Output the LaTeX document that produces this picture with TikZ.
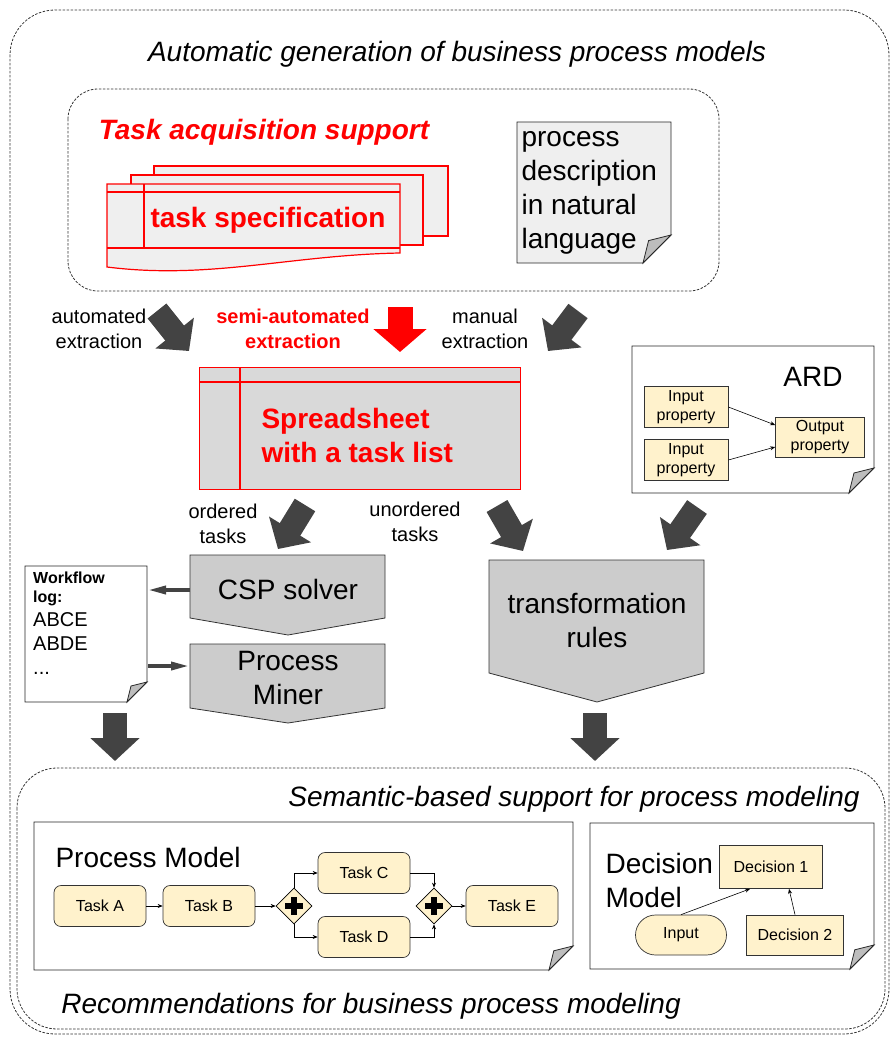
\documentclass[tikz,border=0pt]{standalone}
\usepackage{fontspec}
\setmainfont{Liberation Sans}
\usetikzlibrary{calc, positioning, arrows.meta, shapes.geometric}

\definecolor{arrowgrey}{HTML}{434343}
\definecolor{lightsheet}{HTML}{EFEFEF}
\definecolor{boxgrey}{HTML}{CCCCCC}
\definecolor{sheetgrey}{HTML}{D9D9D9}
\definecolor{foldgrey}{HTML}{BDBDBD}
\definecolor{taskfill}{HTML}{FFF2CC}

\newcommand{\bigfont}{\fontsize{28}{34}\selectfont}
\newcommand{\midfont}{\fontsize{20}{25}\selectfont}
\newcommand{\smallfont}{\fontsize{16}{19}\selectfont}

% note with a folded corner: x1, y1, x2, y2, fill, fold
\newcommand{\foldnote}[6]{%
  \draw[notebox, fill=#5] (#1,#2) -- (#3,#2) -- (#3,#4-#6) -- (#3-#6,#4) -- (#1,#4) -- cycle;
  \draw[notebox, fill=foldgrey] (#3,#4-#6) -- (#3-#6,#4) -- (#3-0.8*#6,#4-0.8*#6) -- cycle;}

\tikzset{
  frame/.style={draw=black!80, line width=0.8pt, dash pattern=on 2.5pt off 1.5pt, rounded corners=40pt},
  notebox/.style={draw=black!85, line width=0.8pt},
  redsheet/.style={draw=red, line width=1.2pt, fill=lightsheet},
  pentabox/.style={draw=black!80, line width=0.8pt, fill=boxgrey},
  blockarrow/.style={arrowgrey, line width=24pt, -{Triangle[length=23pt, width=48pt]}},
  redarrow/.style={red, line width=25pt, -{Triangle[length=23pt, width=52pt]}},
  smallarrow/.style={arrowgrey, line width=3.5pt, -{Triangle[length=18pt, width=8pt]}},
  flowarrow/.style={black, line width=0.6pt, -{Stealth[length=5pt, width=4pt]}},
  smallbox/.style={draw=black!80, line width=0.7pt, fill=taskfill, font=\smallfont, inner sep=1pt},
  task/.style={smallbox, rounded corners=7pt, minimum width=92, minimum height=41},
  gateway/.style={diamond, draw=black, line width=0.7pt, fill=taskfill, minimum width=36, minimum height=36, inner sep=0pt},
  plusmark/.style={black, line width=6pt}
}

\begin{document}
\begin{tikzpicture}[x=1pt, y=-1pt]
\useasboundingbox (0,0) rectangle (891,1038);

% outer frame
\draw[frame, rounded corners=45pt] (10,10) rectangle (889,1034);
\node[font=\bigfont\itshape] (title) at (457,54) {Automatic generation of business process models};

% task acquisition
\draw[frame, rounded corners=30pt] (68,89) rectangle (719,291);
\node[font=\bigfont\bfseries\itshape, text=red] (acq) at (264,132) {Task acquisition support};
\draw[redsheet] (154,166) rectangle (448,236);
\draw[redsheet] (131,175) rectangle (423,245);
\draw[redsheet] (107,184) -- (400,184) -- (400,253) .. controls (290,255) and (210,280) .. (107,267) -- cycle;
\draw[red, line width=1.2pt] (107,192) -- (400,192) (144,184) -- (144,248) (107,248) -- (400,248);
\node[font=\bigfont\bfseries, text=red] (spec) at (268,220) {task specification};

\foldnote{517}{122}{671}{263}{lightsheet}{28}
\node[font=\bigfont, align=left, anchor=west] (desc) at (518,193) {process\\description\\in natural\\language};

% extraction
\node[font=\midfont, align=center] (autoext) at (99,329) {automated\\extraction};
\node[font=\midfont\bfseries, text=red, align=center] (semiext) at (293,329) {semi-automated\\extraction};
\node[font=\midfont, align=center] (manext) at (485,329) {manual\\extraction};

\coordinate (autotail) at (157,311);
\coordinate (autotip) at (189,351);
\coordinate (semitail) at (400,307);
\coordinate (semitip) at (400,352);
\coordinate (mantail) at (578,311);
\coordinate (mantip) at (548,351);
\draw[blockarrow] (autotail) -- (autotip);
\draw[redarrow] (semitail) -- (semitip);
\draw[blockarrow] (mantail) -- (mantip);

% spreadsheet
\node[draw=red, line width=1.2pt, fill=sheetgrey, minimum width=321, minimum height=122, anchor=north west] (sheet) at (199,367) {};
\draw[red, line width=1.2pt] (199,382) -- (520,382) (240,367) -- (240,489);
\node[font=\bigfont\bfseries, text=red, align=left, anchor=west] (sheettext) at (258,435) {Spreadsheet\\with a task list};

% ARD
\foldnote{632}{346}{874}{493}{white}{25}
\node[font=\bigfont] (ard) at (813,377) {ARD};
\node[smallbox, minimum width=84, minimum height=41, align=center] (inprop1) at (686,407) {Input\\property};
\node[smallbox, minimum width=84, minimum height=41, align=center] (inprop2) at (686,460) {Input\\property};
\node[smallbox, minimum width=89, minimum height=40, align=center] (outprop) at (820,437) {Output\\property};
\draw[flowarrow] (inprop1.east) -- ($(outprop.west)+(0,-12)$);
\draw[flowarrow] (inprop2.east) -- ($(outprop.west)+(0,10)$);

% ordering
\node[font=\midfont, align=center] (ordered) at (223,524) {ordered\\tasks};
\node[font=\midfont, align=center] (unordered) at (415,522) {unordered\\tasks};
\coordinate (ordtail) at (305,505);
\coordinate (ordtip) at (278,549);
\coordinate (unordtail) at (497,506);
\coordinate (unordtip) at (523,551);
\coordinate (ardtail) at (697,507);
\coordinate (ardtip) at (667,550);
\draw[blockarrow] (ordtail) -- (ordtip);
\draw[blockarrow] (unordtail) -- (unordtip);
\draw[blockarrow] (ardtail) -- (ardtip);

% solvers
\draw[pentabox] (190,555) -- (385,555) -- (385,618) -- (288,635) -- (190,618) -- cycle;
\node[font=\bigfont] (csp) at (288,589) {CSP solver};
\draw[pentabox] (190,644) -- (385,644) -- (385,708) -- (288,723) -- (190,708) -- cycle;
\node[font=\bigfont, align=center] (miner) at (288,678) {Process\\Miner};
\draw[pentabox] (489,560) -- (704,560) -- (704,673) -- (597,702) -- (489,673) -- cycle;
\node[font=\bigfont, align=center] (rules) at (597,620) {transformation\\rules};

% workflow log
\foldnote{25}{566}{147}{702}{white}{20}
\node[font=\smallfont\bfseries, align=left, anchor=west, inner sep=1pt] (logtitle) at (32,589) {Workflow\\log:};
\node[font=\fontsize{20}{24}\selectfont, align=left, anchor=west, inner sep=1pt] (logbody) at (32,644) {ABCE\\ABDE\\...};
\coordinate (cspleft) at (190,590);
\coordinate (logright) at (148,590);
\coordinate (loglow) at (148,666);
\coordinate (minerleft) at (189,666);
\draw[smallarrow] (cspleft) -- (logright);
\draw[smallarrow] (loglow) -- (minerleft);

\coordinate (lefttail) at (115,713);
\coordinate (lefttip) at (115,761);
\coordinate (righttail) at (595,713);
\coordinate (righttip) at (595,761);
\draw[blockarrow] (lefttail) -- (lefttip);
\draw[blockarrow] (righttail) -- (righttip);

% semantic-based support
\draw[frame] (17,768) rectangle (885,1029);
\node[font=\bigfont\itshape] (semantic) at (574,799) {Semantic-based support for process modeling};
\node[font=\bigfont\itshape] (recomm) at (371,1006) {Recommendations for business process modeling};

% process model
\foldnote{34}{822}{573}{970}{white}{24}
\node[font=\bigfont, anchor=west] (pmtitle) at (52,857) {Process Model};
\node[task] (taska) at (100,906) {Task A};
\node[task] (taskb) at (209,906) {Task B};
\node[gateway] (split) at (294,906) {};
\node[task] (taskc) at (364,873) {Task C};
\node[task] (taskd) at (364,937) {Task D};
\node[gateway] (join) at (434,906) {};
\node[task] (taske) at (512,906) {Task E};
\foreach \g in {split, join}
  \draw[plusmark] ($(\g)+(-9,0)$) -- ($(\g)+(9,0)$) ($(\g)+(0,-9)$) -- ($(\g)+(0,9)$);
\draw[flowarrow] (taska) -- (taskb);
\draw[flowarrow] (taskb) -- (split);
\draw[flowarrow] (split.north) |- (taskc.west);
\draw[flowarrow] (split.south) |- (taskd.west);
\draw[flowarrow] (taskc.east) -| (join.north);
\draw[flowarrow] (taskd.east) -| (join.south);
\draw[flowarrow] (join) -- (taske);

% decision model
\foldnote{590}{823}{874}{969}{white}{24}
\node[font=\bigfont, align=left, anchor=west] (dmtitle) at (602,880) {Decision\\Model};
\node[smallbox, minimum width=103, minimum height=43] (dec1) at (771,867) {Decision 1};
\node[smallbox, minimum width=97, minimum height=40] (dec2) at (795,935) {Decision 2};
\node[smallbox, rounded corners=20pt, minimum width=91, minimum height=40] (input) at (681,935) {Input};
\draw[flowarrow] (input.north) -- ($(dec1.south)+(-21,0)$);
\draw[flowarrow] (dec2.north) -- ($(dec1.south)+(18,0)$);
\end{tikzpicture}
\end{document}
